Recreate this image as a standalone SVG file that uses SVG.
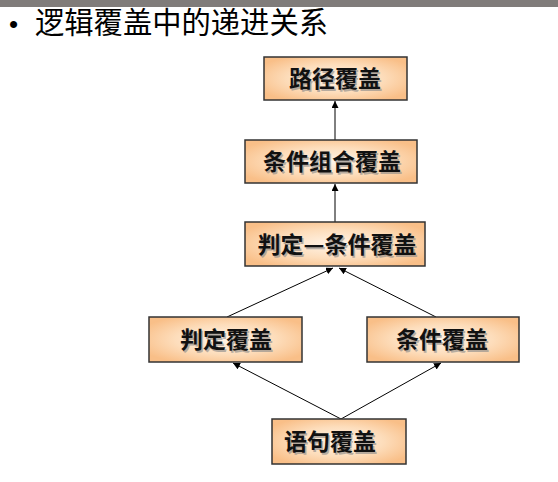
<svg xmlns="http://www.w3.org/2000/svg" width="558" height="482" viewBox="0 0 558 482">
  <defs>
    <radialGradient id="g" cx="0.5" cy="0.5" r="0.6">
      <stop offset="0" stop-color="#FFF4E8"/>
      <stop offset="0.55" stop-color="#FDDDBB"/>
      <stop offset="1" stop-color="#F9BF88"/>
    </radialGradient>
    <marker id="ah" viewBox="0 0 10 10" refX="10" refY="5" markerWidth="7" markerHeight="7" markerUnits="userSpaceOnUse" orient="auto">
      <path d="M0,0 L10,5 L0,10 z" fill="#000"/>
    </marker>
    <style>
      .box { fill: url(#g); stroke: #333; stroke-width: 1.5; }
      .lbl { font-family: "Noto Sans CJK SC", sans-serif; font-weight: bold; font-size: 23px; fill: #111; text-anchor: middle; }
      .sh { fill: #888; opacity: 0.6; }
      .con { stroke: #000; stroke-width: 1; fill: none; marker-end: url(#ah); }
    </style>
  </defs>
  <rect x="0" y="0" width="558" height="482" fill="#fff"/>
  <rect x="0" y="0" width="558" height="7" fill="#807C7A"/>
  <g id="title">
    <text x="9" y="33" font-family="'Liberation Sans', sans-serif" font-size="26" fill="#000">•</text>
    <text x="35" y="33" font-family="'Noto Sans CJK SC', sans-serif" font-size="29.3" fill="#000">逻辑覆盖中的递进关系</text>
  </g>
  <g id="connectors">
    <line class="con" x1="335" y1="140" x2="335" y2="101"/>
    <line class="con" x1="335" y1="222" x2="335" y2="184"/>
    <line class="con" x1="227" y1="317" x2="333" y2="268"/>
    <line class="con" x1="436" y1="317" x2="339" y2="268"/>
    <line class="con" x1="341" y1="419" x2="233" y2="363"/>
    <line class="con" x1="341" y1="419" x2="441" y2="363"/>
  </g>
  <g id="n1">
    <rect class="box" x="264" y="57" width="143" height="43"/>
    <text class="lbl sh" x="336.5" y="88.5">路径覆盖</text>
    <text class="lbl" x="335" y="87">路径覆盖</text>
  </g>
  <g id="n2">
    <rect class="box" x="245" y="140" width="172" height="43"/>
    <text class="lbl sh" x="333.5" y="171.5">条件组合覆盖</text>
    <text class="lbl" x="332" y="170">条件组合覆盖</text>
  </g>
  <g id="n3">
    <rect class="box" x="245" y="222" width="180" height="44"/>
    <text class="lbl sh" x="338.5" y="254.5">判定—条件覆盖</text>
    <text class="lbl" x="337" y="253">判定—条件覆盖</text>
  </g>
  <g id="n4">
    <rect class="box" x="149" y="317" width="153" height="45"/>
    <text class="lbl sh" x="227.5" y="349.5">判定覆盖</text>
    <text class="lbl" x="226" y="348">判定覆盖</text>
  </g>
  <g id="n5">
    <rect class="box" x="367" y="317" width="152" height="45"/>
    <text class="lbl sh" x="443.5" y="349.5">条件覆盖</text>
    <text class="lbl" x="442" y="348">条件覆盖</text>
  </g>
  <g id="n6">
    <rect class="box" x="272" y="419" width="134" height="45"/>
    <text class="lbl sh" x="331.5" y="451.5">语句覆盖</text>
    <text class="lbl" x="330" y="450">语句覆盖</text>
  </g>
</svg>
